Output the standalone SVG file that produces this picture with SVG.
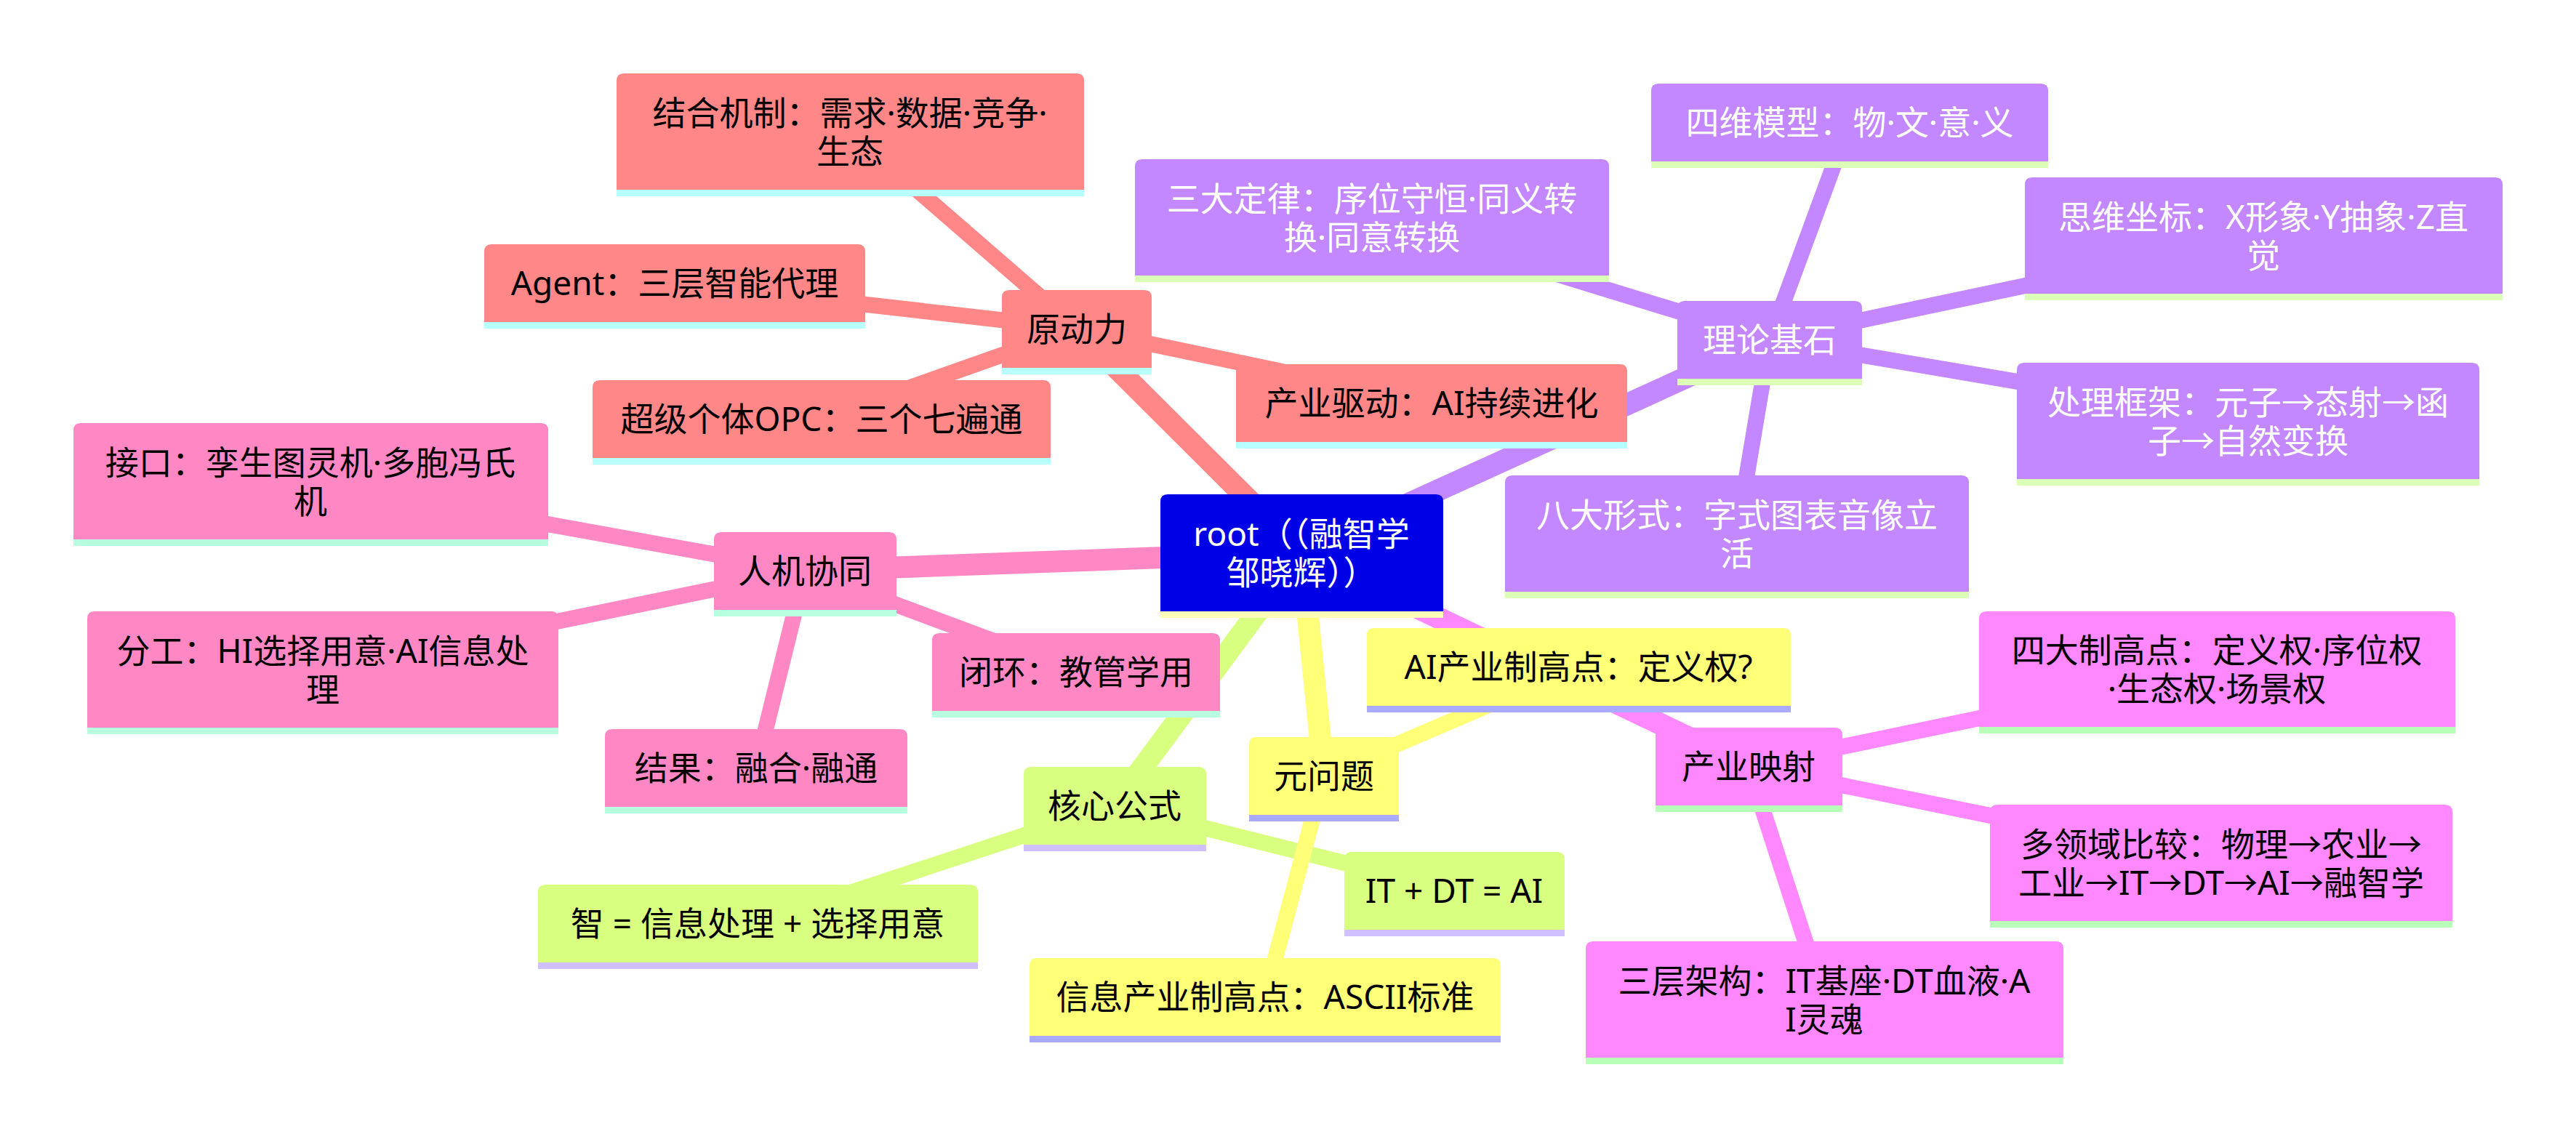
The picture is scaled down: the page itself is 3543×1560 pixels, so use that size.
<svg xmlns="http://www.w3.org/2000/svg" width="3543" height="1560" viewBox="0 0 3543 1560">
<style>
text{font-family:"Noto Sans","Noto Sans CJK SC",sans-serif;font-size:46px;text-anchor:middle}
.e1{stroke-width:30;stroke-linecap:butt;fill:none}
.e2{stroke-width:22;stroke-linecap:butt;fill:none}
.red .b{fill:#FF8787}.red .u{fill:#B8FFFF}.red text{fill:#000}
.pur .b{fill:#C387FF}.pur .u{fill:#DCFFB8}.pur text{fill:#fff}
.pnk .b{fill:#FF88C4}.pnk .u{fill:#B8FFE0}.pnk text{fill:#000}
.lim .b{fill:#D9FF80}.lim .u{fill:#D0C0FF}.lim text{fill:#000}
.yel .b{fill:#FFFF78}.yel .u{fill:#AAAAFF}.yel text{fill:#000}
.mag .b{fill:#FF88FF}.mag .u{fill:#B8FFB8}.mag text{fill:#000}
.root .b{fill:#0000E6}.root .u{fill:#FFFFB8}.root text{fill:#fff}
</style>
<g id="connectors">
<line class="e1" stroke="#FF8787" x1="1790" y1="760" x2="1481" y2="452"/>
<line class="e2" stroke="#FF8787" x1="1481" y1="452" x2="1169" y2="181"/>
<line class="e2" stroke="#FF8787" x1="1481" y1="452" x2="928" y2="389"/>
<line class="e2" stroke="#FF8787" x1="1481" y1="452" x2="1130" y2="576"/>
<line class="e2" stroke="#FF8787" x1="1481" y1="452" x2="1969" y2="554"/>
<line class="e1" stroke="#C387FF" x1="1790" y1="760" x2="2434" y2="467"/>
<line class="e2" stroke="#C387FF" x1="2434" y1="467" x2="2544" y2="168"/>
<line class="e2" stroke="#C387FF" x1="2434" y1="467" x2="1887" y2="299"/>
<line class="e2" stroke="#C387FF" x1="2434" y1="467" x2="3113" y2="324"/>
<line class="e2" stroke="#C387FF" x1="2434" y1="467" x2="3092" y2="579"/>
<line class="e2" stroke="#C387FF" x1="2434" y1="467" x2="2389" y2="734"/>
<line class="e1" stroke="#FF88C4" x1="1790" y1="760" x2="1107" y2="785"/>
<line class="e2" stroke="#FF88C4" x1="1107" y1="785" x2="427" y2="662"/>
<line class="e2" stroke="#FF88C4" x1="1107" y1="785" x2="444" y2="921"/>
<line class="e2" stroke="#FF88C4" x1="1107" y1="785" x2="1040" y2="1056"/>
<line class="e2" stroke="#FF88C4" x1="1107" y1="785" x2="1480" y2="924"/>
<line class="e1" stroke="#D9FF80" x1="1790" y1="760" x2="1533" y2="1108"/>
<line class="e2" stroke="#D9FF80" x1="1533" y1="1108" x2="1042" y2="1270"/>
<line class="e2" stroke="#D9FF80" x1="1533" y1="1108" x2="2000" y2="1225"/>
<line class="e1" stroke="#FFFF78" x1="1790" y1="760" x2="1821" y2="1067"/>
<line class="e2" stroke="#FFFF78" x1="1821" y1="1067" x2="2171" y2="917"/>
<line class="e2" stroke="#FFFF78" x1="1821" y1="1067" x2="1740" y2="1371"/>
<line class="e1" stroke="#FF88FF" x1="1790" y1="760" x2="2405" y2="1054"/>
<line class="e2" stroke="#FF88FF" x1="2405" y1="1054" x2="3049" y2="920"/>
<line class="e2" stroke="#FF88FF" x1="2405" y1="1054" x2="3055" y2="1187"/>
<line class="e2" stroke="#FF88FF" x1="2405" y1="1054" x2="2509" y2="1375"/>
</g>
<g id="root" class="root"><path class="b" d="M1596,841V690Q1596,680 1606,680H1975Q1985,680 1985,690V841Z"/><rect class="u" x="1596" y="841" width="389" height="9"/><text x="1790" y="751">root（（融智学</text><text x="1790" y="804">邹晓辉））</text></g>

<g id="n1" class="red"><path class="b" d="M1378,506V409Q1378,399 1388,399H1574Q1584,399 1584,409V506Z"/><rect class="u" x="1378" y="506" width="206" height="9"/><text x="1481" y="469">原动力</text></g>
<g id="n2" class="red"><path class="b" d="M848,261V111Q848,101 858,101H1481Q1491,101 1491,111V261Z"/><rect class="u" x="848" y="261" width="643" height="9"/><text x="1169" y="172">结合机制：需求·数据·竞争·</text><text x="1169" y="225">生态</text></g>
<g id="n3" class="red"><path class="b" d="M666,443V346Q666,336 676,336H1180Q1190,336 1190,346V443Z"/><rect class="u" x="666" y="443" width="524" height="9"/><text x="928" y="406">Agent：三层智能代理</text></g>
<g id="n4" class="red"><path class="b" d="M815,630V533Q815,523 825,523H1435Q1445,523 1445,533V630Z"/><rect class="u" x="815" y="630" width="630" height="9"/><text x="1130" y="593">超级个体OPC：三个七遍通</text></g>
<g id="n5" class="red"><path class="b" d="M1700,608V511Q1700,501 1710,501H2228Q2238,501 2238,511V608Z"/><rect class="u" x="1700" y="608" width="538" height="9"/><text x="1969" y="571">产业驱动：AI持续进化</text></g>

<g id="n6" class="pur"><path class="b" d="M2307,521V424Q2307,414 2317,414H2551Q2561,414 2561,424V521Z"/><rect class="u" x="2307" y="521" width="254" height="9"/><text x="2434" y="484">理论基石</text></g>
<g id="n7" class="pur"><path class="b" d="M2271,222V125Q2271,115 2281,115H2807Q2817,115 2817,125V222Z"/><rect class="u" x="2271" y="222" width="546" height="9"/><text x="2544" y="185">四维模型：物·文·意·义</text></g>
<g id="n8" class="pur"><path class="b" d="M1561,379V229Q1561,219 1571,219H2203Q2213,219 2213,229V379Z"/><rect class="u" x="1561" y="379" width="652" height="9"/><text x="1887" y="290">三大定律：序位守恒·同义转</text><text x="1887" y="343">换·同意转换</text></g>
<g id="n9" class="pur"><path class="b" d="M2785,404V254Q2785,244 2795,244H3432Q3442,244 3442,254V404Z"/><rect class="u" x="2785" y="404" width="657" height="9"/><text x="3113" y="315">思维坐标：X形象·Y抽象·Z直</text><text x="3113" y="368">觉</text></g>
<g id="n10" class="pur"><path class="b" d="M2774,659V509Q2774,499 2784,499H3400Q3410,499 3410,509V659Z"/><rect class="u" x="2774" y="659" width="636" height="9"/><text x="3092" y="570">处理框架：元子→态射→函</text><text x="3092" y="623">子→自然变换</text></g>
<g id="n11" class="pur"><path class="b" d="M2070,814V664Q2070,654 2080,654H2698Q2708,654 2708,664V814Z"/><rect class="u" x="2070" y="814" width="638" height="9"/><text x="2389" y="725">八大形式：字式图表音像立</text><text x="2389" y="778">活</text></g>

<g id="n12" class="pnk"><path class="b" d="M982,839V742Q982,732 992,732H1223Q1233,732 1233,742V839Z"/><rect class="u" x="982" y="839" width="251" height="9"/><text x="1107" y="802">人机协同</text></g>
<g id="n13" class="pnk"><path class="b" d="M101,742V592Q101,582 111,582H744Q754,582 754,592V742Z"/><rect class="u" x="101" y="742" width="653" height="9"/><text x="427" y="653">接口：孪生图灵机·多胞冯氏</text><text x="427" y="706">机</text></g>
<g id="n14" class="pnk"><path class="b" d="M120,1001V851Q120,841 130,841H758Q768,841 768,851V1001Z"/><rect class="u" x="120" y="1001" width="648" height="9"/><text x="444" y="912">分工：HI选择用意·AI信息处</text><text x="444" y="965">理</text></g>
<g id="n15" class="pnk"><path class="b" d="M832,1110V1013Q832,1003 842,1003H1238Q1248,1003 1248,1013V1110Z"/><rect class="u" x="832" y="1110" width="416" height="9"/><text x="1040" y="1073">结果：融合·融通</text></g>
<g id="n16" class="pnk"><path class="b" d="M1282,978V881Q1282,871 1292,871H1668Q1678,871 1678,881V978Z"/><rect class="u" x="1282" y="978" width="396" height="9"/><text x="1480" y="941">闭环：教管学用</text></g>

<g id="n17" class="lim"><path class="b" d="M1408,1162V1065Q1408,1055 1418,1055H1649Q1659,1055 1659,1065V1162Z"/><rect class="u" x="1408" y="1162" width="251" height="9"/><text x="1533" y="1125">核心公式</text></g>
<g id="n18" class="lim"><path class="b" d="M740,1324V1227Q740,1217 750,1217H1335Q1345,1217 1345,1227V1324Z"/><rect class="u" x="740" y="1324" width="605" height="9"/><text x="1042" y="1287">智 = 信息处理 + 选择用意</text></g>
<g id="n19" class="lim"><path class="b" d="M1849,1279V1182Q1849,1172 1859,1172H2142Q2152,1172 2152,1182V1279Z"/><rect class="u" x="1849" y="1279" width="303" height="9"/><text x="2000" y="1242">IT + DT = AI</text></g>

<g id="n20" class="yel"><path class="b" d="M1718,1121V1024Q1718,1014 1728,1014H1914Q1924,1014 1924,1024V1121Z"/><rect class="u" x="1718" y="1121" width="206" height="9"/><text x="1821" y="1084">元问题</text></g>
<g id="n21" class="yel"><path class="b" d="M1880,971V874Q1880,864 1890,864H2453Q2463,864 2463,874V971Z"/><rect class="u" x="1880" y="971" width="583" height="9"/><text x="2171" y="934">AI产业制高点：定义权?</text></g>
<g id="n22" class="yel"><path class="b" d="M1416,1425V1328Q1416,1318 1426,1318H2054Q2064,1318 2064,1328V1425Z"/><rect class="u" x="1416" y="1425" width="648" height="9"/><text x="1740" y="1388">信息产业制高点：ASCII标准</text></g>

<g id="n23" class="mag"><path class="b" d="M2277,1108V1011Q2277,1001 2287,1001H2524Q2534,1001 2534,1011V1108Z"/><rect class="u" x="2277" y="1108" width="257" height="9"/><text x="2405" y="1071">产业映射</text></g>
<g id="n24" class="mag"><path class="b" d="M2722,1000V851Q2722,841 2732,841H3367Q3377,841 3377,851V1000Z"/><rect class="u" x="2722" y="1000" width="655" height="9"/><text x="3049" y="911">四大制高点：定义权·序位权</text><text x="3049" y="964">·生态权·场景权</text></g>
<g id="n25" class="mag"><path class="b" d="M2737,1267V1117Q2737,1107 2747,1107H3363Q3373,1107 3373,1117V1267Z"/><rect class="u" x="2737" y="1267" width="636" height="9"/><text x="3055" y="1178">多领域比较：物理→农业→</text><text x="3055" y="1231">工业→IT→DT→AI→融智学</text></g>
<g id="n26" class="mag"><path class="b" d="M2181,1455V1305Q2181,1295 2191,1295H2828Q2838,1295 2838,1305V1455Z"/><rect class="u" x="2181" y="1455" width="657" height="9"/><text x="2509" y="1366">三层架构：IT基座·DT血液·A</text><text x="2509" y="1419">I灵魂</text></g>
</svg>
